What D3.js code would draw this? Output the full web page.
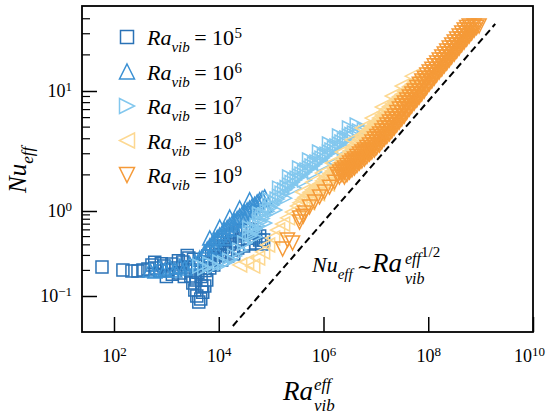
<!DOCTYPE html>
<html>
<head>
<meta charset="utf-8">
<script src="https://cdn.jsdelivr.net/npm/d3@7"></script>
<style>
  body { margin: 0; background: #fff; }
  svg { display: block; }
</style>
</head>
<body>
<div id="chart"></div>
<script>
// Data: [Ra_vib^eff, Nu_eff]
const pts1e5 = [
  [59, 0.219], [148, 0.202], [220, 0.197], [287, 0.197], [357, 0.202], [444, 0.208], [530, 0.232],
  [631, 0.214], [752, 0.197], [896, 0.225], [1069, 0.202], [1274, 0.238], [1518, 0.214], [1808, 0.187],
  [2061, 0.251], [2350, 0.219], [2683, 0.28], [2930, 0.172], [3199, 0.142], [3491, 0.118], [3811, 0.1],
  [4159, 0.085], [4540, 0.092], [4955, 0.111], [5413, 0.131], [5902, 0.154], [3648, 0.154], [4744, 0.131],
  [3062, 0.202], [3981, 0.225], [5176, 0.251], [6166, 0.296], [7362, 0.338], [8770, 0.377],
  [1.045e4, 0.42], [1.245e4, 0.456], [1.48e4, 0.494], [1.77e4, 0.522], [2.11e4, 0.551], [2.51e4, 0.582],
  [2.99e4, 0.598], [3.57e4, 0.614], [4.25e4, 0.598], [5.07e4, 0.551], [6.04e4, 0.508], [7.2e4, 0.456],
  [8035, 0.28], [1.045e4, 0.304], [1.36e4, 0.33], [1.77e4, 0.348], [2.3e4, 0.367], [2.99e4, 0.388],
  [3.89e4, 0.409], [5.07e4, 0.42], [6.6e4, 0.409],
  [600, 0.25], [800, 0.24], [1000, 0.17], [1300, 0.18], [1700, 0.26], [2200, 0.17], [2500, 0.3],
  [3300, 0.27], [4000, 0.19], [4600, 0.17], [5500, 0.2], [6500, 0.23],
  [9572, 0.348], [1.245e4, 0.377], [1.62e4, 0.409], [2.11e4, 0.444], [2.74e4, 0.468], [3.57e4, 0.481],
  [4.64e4, 0.481], [6.04e4, 0.456], [6740, 0.214], [8035, 0.232], [1.14e4, 0.265], [1.48e4, 0.296],
  [1.93e4, 0.312]
];

const pts1e6 = [
  [485, 0.202], [604, 0.197], [752, 0.214], [936, 0.202], [1166, 0.219], [1452, 0.202], [1808, 0.225],
  [2251, 0.214], [2803, 0.238], [3491, 0.251], [4347, 0.28], [5413, 0.33], [6740, 0.388], [8394, 0.456],
  [1.045e4, 0.522], [1.30e4, 0.598], [1.62e4, 0.684], [2.02e4, 0.763], [2.51e4, 0.873], [3.13e4, 0.973],
  [3.89e4, 1.06], [4.85e4, 1.14], [6.04e4, 1.24], [7.52e4, 1.31],
  [6740, 0.481], [1.045e4, 0.648], [1.62e4, 0.85], [2.51e4, 1.06], [3.89e4, 1.24],
  [8394, 0.367], [1.30e4, 0.481], [2.02e4, 0.614], [3.13e4, 0.784], [4.85e4, 0.973], [7.52e4, 1.12],
  [6040, 0.357], [7520, 0.42], [9370, 0.488], [1.17e4, 0.558], [1.45e4, 0.64], [1.81e4, 0.723],
  [2.25e4, 0.816], [2.80e4, 0.922], [3.49e4, 1.02], [4.34e4, 1.10], [5.41e4, 1.19], [6.74e4, 1.27]
];

const pts1e7 = [
  [4347, 0.225], [5413, 0.214], [6740, 0.238], [8394, 0.225], [1.045e4, 0.251], [1.30e4, 0.245],
  [1.62e4, 0.265], [2.02e4, 0.296], [2.51e4, 0.348], [3.13e4, 0.42], [3.89e4, 0.508], [4.85e4, 0.614],
  [6.04e4, 0.742], [7.52e4, 0.897], [9.36e4, 1.06], [1.17e5, 1.19], [1.45e5, 1.33], [1.81e5, 1.50],
  [2.25e5, 1.65], [2.80e5, 1.81], [3.49e5, 1.96], [4.35e5, 2.11], [5.41e5, 2.28], [6.74e5, 2.46],
  [8.39e5, 2.66], [1.04e6, 2.87], [1.30e6, 3.10], [1.62e6, 3.35], [2.02e6, 3.62], [2.51e6, 3.91],
  [3.13e6, 4.22], [3.89e6, 4.47], [4.85e6, 4.64], [6.04e6, 4.73],
  [3.89e4, 0.631], [6.04e4, 0.922], [9.36e4, 1.24], [1.45e5, 1.55], [2.25e5, 1.92], [3.49e5, 2.28],
  [5.41e5, 2.66], [8.39e5, 3.10], [1.30e6, 3.62], [2.02e6, 4.22], [3.13e6, 4.92], [4.4e6, 5.21],
  [4.85e4, 0.494], [7.52e4, 0.723], [1.17e5, 1.02], [1.81e5, 1.28], [2.80e5, 1.55], [4.35e5, 1.81],
  [6.74e5, 2.11], [1.04e6, 2.46], [1.62e6, 2.87], [2.51e6, 3.35],
  [4.34e4, 0.558], [5.41e4, 0.675], [6.74e4, 0.816], [8.39e4, 0.99], [1.04e5, 1.12], [1.30e5, 1.26],
  [1.62e5, 1.41], [2.02e5, 1.57], [2.51e5, 1.73], [3.13e5, 1.88], [3.89e5, 2.03], [4.85e5, 2.20],
  [6.04e5, 2.37], [7.52e5, 2.56], [9.36e5, 2.76], [1.17e6, 2.98], [1.45e6, 3.22], [1.81e6, 3.48],
  [2.25e6, 3.76], [2.80e6, 4.06], [3.49e6, 4.34]
];

const pts1e8 = [
  [2.51e4, 0.232], [3.41e4, 0.251], [4.45e4, 0.225], [5.53e4, 0.28], [6.89e4, 0.33], [8.58e4, 0.398],
  [1.07e5, 0.481], [1.33e5, 0.598], [1.66e5, 0.703], [2.06e5, 0.83], [2.57e5, 0.973],
  [3.2e5, 1.10], [3.98e5, 1.24], [4.96e5, 1.36], [6.17e5, 1.50], [7.69e5, 1.62], [9.56e5, 1.78],
  [1.19e6, 1.96], [1.48e6, 2.15], [1.85e6, 2.37], [2.30e6, 2.66], [2.86e6, 2.98], [3.56e6, 3.35],
  [4.43e6, 3.76], [5.52e6, 4.22], [6.87e6, 4.64], [8.55e6, 5.11], [1.06e7, 5.62], [1.33e7, 6.31],
  [1.65e7, 7.07], [2.06e7, 7.8], [2.56e7, 8.6], [3.19e7, 9.4], [3.97e7, 10.4], [4.94e7, 11.4],
  [6.15e7, 12.3], [7.66e7, 13.3],
  [3.98e5, 1.44], [6.17e5, 1.74], [9.56e5, 2.07], [1.48e6, 2.51], [2.30e6, 3.10], [3.56e6, 3.91],
  [5.52e6, 4.92], [8.55e6, 5.95], [1.33e7, 7.36], [2.06e7, 9.09], [3.19e7, 11.0], [4.94e7, 13.3],
  [4.96e5, 1.17], [7.69e5, 1.39], [1.19e6, 1.68], [1.85e6, 2.03], [2.86e6, 2.56], [4.43e6, 3.22],
  [6.87e6, 3.98], [1.06e7, 4.82], [1.65e7, 6.07], [2.56e7, 7.36], [3.97e7, 8.91],
  [3.57e5, 1.17], [4.44e5, 1.30], [5.53e5, 1.43], [6.89e5, 1.55], [8.58e5, 1.69], [1.07e6, 1.87],
  [1.33e6, 2.05], [1.65e6, 2.26], [2.06e6, 2.51], [2.57e6, 2.82], [3.19e6, 3.16], [3.97e6, 3.55],
  [4.94e6, 3.98], [6.16e6, 4.42], [7.67e6, 4.87], [9.54e6, 5.35], [1.18e7, 5.95], [1.48e7, 6.7],
  [1.84e7, 7.43], [2.30e7, 8.17], [2.86e7, 9.0], [3.56e7, 9.9], [4.43e7, 10.9], [5.51e7, 11.9],
  [6.86e7, 12.8]
];

const pts1e9 = [
  [1.66e5, 0.357], [2.06e5, 0.456], [2.57e5, 0.42], [3.49e5, 0.74], [4.1e5, 0.87],
  [3.49e5, 0.83], [4.35e5, 0.95], [5.41e5, 1.08], [6.74e5, 1.19], [8.39e5, 1.31], [1.04e6, 1.44],
  [1.30e6, 1.58], [1.62e6, 1.74], [2.02e6, 1.92], [2.51e6, 2.11], [3.13e6, 2.28], [3.89e6, 2.51],
  [4.85e6, 2.71], [6.04e6, 2.98], [7.52e6, 3.22], [9.36e6, 3.55], [1.17e7, 3.98], [1.45e7, 4.39],
  [1.81e7, 4.92], [2.25e7, 5.52], [2.80e7, 6.19], [3.49e7, 7.07], [4.35e7, 7.94], [5.41e7, 8.91],
  [6.74e7, 10.0], [8.39e7, 11.4], [1.04e8, 12.8], [1.30e8, 14.4], [1.62e8, 16.2], [2.02e8, 18.1],
  [2.51e8, 20.3], [3.13e8, 22.8], [3.89e8, 25.6], [4.85e8, 28.7], [6.04e8, 32.2], [7.52e8, 34.8],
  [2.02e6, 2.11], [2.51e6, 2.28], [3.13e6, 2.51], [3.89e6, 2.71], [4.85e6, 2.98], [6.04e6, 3.22],
  [7.52e6, 3.55], [9.36e6, 3.98], [1.17e7, 4.39], [1.45e7, 4.92], [1.81e7, 5.52], [2.25e7, 6.19],
  [2.80e7, 7.07], [3.49e7, 7.94], [4.35e7, 8.91], [5.41e7, 10.0], [6.74e7, 11.4], [8.39e7, 12.8],
  [1.04e8, 14.4], [1.30e8, 16.2], [1.62e8, 18.1], [2.02e8, 20.3], [2.51e8, 22.8], [3.13e8, 25.6],
  [3.89e8, 28.7], [4.85e8, 32.2], [6.04e8, 34.8],
  [2.51e6, 1.92], [3.13e6, 2.11], [3.89e6, 2.28], [4.85e6, 2.51], [6.04e6, 2.71], [7.52e6, 2.98],
  [9.36e6, 3.22], [1.17e7, 3.55], [1.45e7, 3.98], [1.81e7, 4.39], [2.25e7, 4.92], [2.80e7, 5.52],
  [3.49e7, 6.19], [4.35e7, 7.07], [5.41e7, 7.94], [6.74e7, 8.91], [8.39e7, 10.0], [1.04e8, 11.4],
  [1.30e8, 12.8], [1.62e8, 14.4], [2.02e8, 16.2], [2.51e8, 18.1], [3.13e8, 20.3], [3.89e8, 22.8],
  [4.85e8, 25.6], [6.04e8, 28.7], [7.52e8, 32.2], [9.36e8, 34.8],
  [1.81e6, 2.01], [2.25e6, 2.01], [2.80e6, 2.01], [2.25e6, 2.20], [2.80e6, 2.20], [3.49e6, 2.20],
  [2.80e6, 2.39], [3.49e6, 2.39], [4.35e6, 2.39], [3.49e6, 2.61], [4.35e6, 2.61], [5.41e6, 2.61],
  [4.35e6, 2.84], [5.41e6, 2.84], [6.74e6, 2.84], [5.41e6, 3.10], [6.74e6, 3.10], [8.39e6, 3.10],
  [6.74e6, 3.38], [8.39e6, 3.38], [1.04e7, 3.38], [8.39e6, 3.76], [1.04e7, 3.76], [1.30e7, 3.76],
  [1.04e7, 4.17], [1.30e7, 4.17], [1.62e7, 4.17], [1.30e7, 4.64], [1.62e7, 4.64], [2.02e7, 4.64],
  [1.62e7, 5.21], [2.02e7, 5.21], [2.51e7, 5.21], [2.02e7, 5.84], [2.51e7, 5.84], [3.13e7, 5.84],
  [2.51e7, 6.62], [3.13e7, 6.62], [3.89e7, 6.62], [3.13e7, 7.5], [3.89e7, 7.5], [4.85e7, 7.5],
  [3.89e7, 8.4], [4.85e7, 8.4], [6.04e7, 8.4], [4.85e7, 9.44], [6.04e7, 9.44], [7.52e7, 9.44],
  [6.04e7, 10.7], [7.52e7, 10.7], [9.36e7, 10.7], [7.52e7, 12.1], [9.36e7, 12.1], [1.17e8, 12.1],
  [9.36e7, 13.6], [1.17e8, 13.6], [1.45e8, 13.6], [1.17e8, 15.2], [1.45e8, 15.2], [1.81e8, 15.2],
  [1.45e8, 17.1], [1.81e8, 17.1], [2.25e8, 17.1], [1.81e8, 19.2], [2.25e8, 19.2], [2.80e8, 19.2],
  [2.25e8, 21.5], [2.80e8, 21.5], [3.49e8, 21.5], [2.80e8, 24.2], [3.49e8, 24.2], [4.35e8, 24.2],
  [3.49e8, 27.1], [4.35e8, 27.1], [5.41e8, 27.1], [4.35e8, 30.4], [5.41e8, 30.4], [6.74e8, 30.4],
  [5.41e8, 33.8], [6.74e8, 33.8], [8.39e8, 33.8]
];

const seriesExp = ["5", "6", "7", "8", "9"];
const xTicks = [1e2, 1e4, 1e6, 1e8, 1e10];
const xTickExp = ["2", "4", "6", "8", "10"];
const yTicks = [0.1, 1, 10];
const yTickExp = ["\u22121", "0", "1"];
// scaling-law guide line end points
const guideLine = [[1.86e4, 0.0444], [1.9e9, 36.2]];

const seriesData = [pts1e5, pts1e6, pts1e7, pts1e8, pts1e9];
const colors = ["#2a72b6", "#3b91d4", "#82c7ee", "#fdd891", "#f59a38"];
const markers = ["square", "up", "right", "left", "down"];
const serif = '"Liberation Serif", "Times New Roman", Times, serif';

const margin = { top: 6, right: 14, bottom: 83, left: 82 };
const W = 547, H = 415;
const width = W - margin.left - margin.right;
const height = H - margin.top - margin.bottom;

const svg = d3.select("#chart").append("svg")
  .attr("width", W)
  .attr("height", H)
  .attr("font-family", serif);

const g = svg.append("g")
  .attr("transform", `translate(${margin.left},${margin.top})`);

const x = d3.scaleLog().domain([24.5, 1e10]).range([0, width]);
// the y decades are not evenly spaced in the figure
const y = d3.scaleLog().domain([0.1, 1, 10]).range([290, 205, 85]);

function markerPath(kind, s) {
  const h = s / 2;
  if (kind === "square") return `M${-h},${-h}H${h}V${h}H${-h}Z`;
  if (kind === "up") return `M0,${-h}L${h},${h}L${-h},${h}Z`;
  if (kind === "down") return `M0,${h}L${h},${-h}L${-h},${-h}Z`;
  if (kind === "right") return `M${h},0L${-h},${h}L${-h},${-h}Z`;
  return `M${-h},0L${h},${h}L${h},${-h}Z`;
}
const markerSize = k => (k === "square" ? 12 : 14);

// clip for data
svg.append("clipPath").attr("id", "clip")
  .append("rect").attr("width", width).attr("height", height);

const dataG = g.append("g").attr("clip-path", "url(#clip)");

seriesData.forEach((pts, i) => {
  dataG.append("g")
    .selectAll("path")
    .data(pts)
    .join("path")
    .attr("transform", d => `translate(${x(d[0])},${y(d[1])})`)
    .attr("d", markerPath(markers[i], markerSize(markers[i])))
    .attr("fill", "none")
    .attr("stroke", colors[i])
    .attr("stroke-width", 1.5);
});

// dashed guide line
dataG.append("line")
  .attr("x1", x(guideLine[0][0])).attr("y1", y(guideLine[0][1]))
  .attr("x2", x(guideLine[1][0])).attr("y2", y(guideLine[1][1]))
  .attr("stroke", "#000")
  .attr("stroke-width", 2)
  .attr("stroke-dasharray", "7,4");

function supLabel(sel, exps, lastShift) {
  sel.attr("fill", "#000")
    .attr("font-family", serif)
    .style("font-size", "18px")
    .each(function (d, i) {
      const t = d3.select(this).text(null);
      if (lastShift && i === exps.length - 1) t.attr("dx", lastShift);
      t.append("tspan").text("10");
      t.append("tspan").attr("dy", "-0.45em").style("font-size", "13px").text(exps[i]);
    });
}

// x axis
const xAxis = g.append("g")
  .attr("transform", `translate(0,${height})`)
  .call(d3.axisBottom(x).tickValues(xTicks).tickSize(-15).tickPadding(17));
xAxis.select(".domain").remove();
xAxis.selectAll(".tick line").attr("stroke-width", 1.5);
supLabel(xAxis.selectAll(".tick text"), xTickExp, -4);

// y axis
const yAxis = g.append("g")
  .call(d3.axisLeft(y).tickValues(yTicks).tickSize(-15).tickPadding(10));
yAxis.select(".domain").remove();
yAxis.selectAll(".tick line").attr("stroke-width", 1.5);
supLabel(yAxis.selectAll(".tick text"), yTickExp, 0);

// minor y ticks
const minorY = [];
[0.1, 1, 10].forEach(b => d3.range(2, 10).forEach(m => { if (m * b < 45) minorY.push(m * b); }));
g.append("g").selectAll("line")
  .data(minorY)
  .join("line")
  .attr("x1", 0).attr("x2", 8)
  .attr("y1", d => y(d)).attr("y2", d => y(d))
  .attr("stroke", "#000")
  .attr("stroke-width", 1.2);

// frame
g.append("rect")
  .attr("width", width)
  .attr("height", height)
  .attr("fill", "none")
  .attr("stroke", "#000")
  .attr("stroke-width", 1.8);

// text helper: returns width
function addText(parent, tx, ty, str, size, italic) {
  const t = parent.append("text")
    .attr("x", tx).attr("y", ty)
    .attr("font-family", serif)
    .style("font-size", size + "px")
    .style("font-style", italic ? "italic" : "normal")
    .text(str);
  return t.node().getComputedTextLength();
}

// legend
const legend = svg.append("g");
seriesExp.forEach((e, i) => {
  const cy = 37 + i * 34.5;
  legend.append("path")
    .attr("transform", `translate(127,${cy})`)
    .attr("d", markerPath(markers[i], markerSize(markers[i]) + 1))
    .attr("fill", "none")
    .attr("stroke", colors[i])
    .attr("stroke-width", 1.5);
  let tx = 147;
  tx += addText(legend, tx, cy + 8, "Ra", 22, true);
  tx += addText(legend, tx, cy + 15, "vib", 15, true);
  tx += addText(legend, tx, cy + 8, "\u2009= 10", 22, false);
  addText(legend, tx + 0.5, cy + 1, e, 15, false);
});

// y title
const yTitle = svg.append("g").attr("transform", "translate(26,193) rotate(-90)");
{
  const w = addText(yTitle, 0, 0, "Nu", 25, true);
  addText(yTitle, w, 7, "eff", 17, true);
}

// x title
{
  const w = addText(svg, 283, 400, "Ra", 27, true);
  addText(svg, 283 + w + 1, 390, "eff", 17, true);
  addText(svg, 283 + w + 1, 411, "vib", 17, true);
}

// scaling law annotation
{
  const w = addText(svg, 312, 272, "Nu", 22, true);
  addText(svg, 312 + w, 279, "eff", 15, true);
  addText(svg, 357, 273, "\u223C", 18, false);
  const wr = addText(svg, 372, 272, "Ra", 27, true);
  const w1 = addText(svg, 372 + wr + 3, 264, "eff", 16, true);
  addText(svg, 372 + wr + 3, 284, "vib", 16, true);
  addText(svg, 372 + wr + 3 + w1, 257, "1/2", 15, false);
}
</script>
</body>
</html>
